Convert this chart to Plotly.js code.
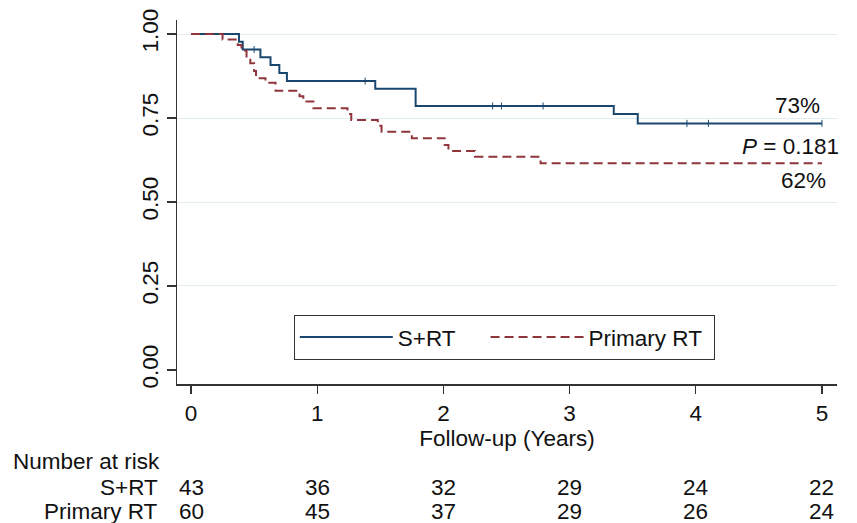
<!DOCTYPE html>
<html>
<head>
<meta charset="utf-8">
<script src="https://cdn.plot.ly/plotly-3.0.1.min.js"></script>
<style>html,body{margin:0;padding:0;background:#fff;}#chart{width:857px;height:523px;}</style>
</head>
<body>
<div id="chart"></div>
<script>
// S+RT Kaplan-Meier step curve
const srtTime = [0, 0.38, 0.41, 0.55, 0.63, 0.70, 0.76, 1.46, 1.78, 3.35, 3.54, 5.0];
const srtSurv = [1.0, 0.977, 0.954, 0.931, 0.908, 0.884, 0.860, 0.837, 0.786, 0.762, 0.734, 0.734];
// S+RT censoring marks
const srtCensTime = [0.50, 1.38, 2.39, 2.46, 2.79, 3.93, 4.10, 5.0];
const srtCensSurv = [0.954, 0.860, 0.786, 0.786, 0.786, 0.734, 0.734, 0.734];
// Primary RT Kaplan-Meier step curve
const prtTime = [0, 0.25, 0.37, 0.40, 0.44, 0.47, 0.50, 0.515, 0.59, 0.67, 0.86, 0.89, 0.97, 1.24, 1.27, 1.48, 1.51, 1.75, 2.01, 2.04, 2.25, 2.77, 5.0];
const prtSurv = [1.0, 0.984, 0.967, 0.95, 0.93, 0.913, 0.89, 0.868, 0.855, 0.831, 0.815, 0.799, 0.779, 0.762, 0.744, 0.727, 0.709, 0.69, 0.67, 0.652, 0.635, 0.615, 0.615];
// axis ticks
const xTicks = [0, 1, 2, 3, 4, 5];
const yTicks = [0, 0.25, 0.5, 0.75, 1.0];
const yTickText = ["0.00", "0.25", "0.50", "0.75", "1.00"];
// number at risk
const riskTimes = [0, 1, 2, 3, 4, 5];
const riskSRT = [43, 36, 32, 29, 24, 22];
const riskPRT = [60, 45, 37, 29, 26, 24];
// labels
const groupNames = ["S+RT", "Primary RT"];
const endLabelSRT = "73%";
const endLabelPRT = "62%";
const pLabel = "<i>P</i> = 0.181";

const blue = "#1a476f";
const red = "#90353b";
const txt = "#111111";
const font = "Liberation Sans, Arial, Helvetica, sans-serif";
const fs = 22.5;

const traces = [
  {x: srtTime, y: srtSurv, type: "scatter", mode: "lines", name: groupNames[0] + "\u00a0\u00a0\u00a0\u00a0",
   line: {shape: "hv", color: blue, width: 2}},
  {x: prtTime, y: prtSurv, type: "scatter", mode: "lines", name: groupNames[1] + "\u00a0",
   line: {shape: "hv", color: red, width: 2, dash: "9px,5px"}},
  {x: srtCensTime, y: srtCensSurv, type: "scatter", mode: "markers", showlegend: false,
   marker: {symbol: "line-ns-open", size: 5, color: blue, line: {color: blue, width: 1}}, hoverinfo: "skip"}
];

const ann = [];
ann.push({xref: "x", yref: "y", x: 5.0, y: srtSurv[srtSurv.length-1], text: endLabelSRT, showarrow: false,
  xanchor: "right", yanchor: "bottom", yshift: 3, font: {family: font, size: fs, color: txt}});
ann.push({xref: "x", yref: "y", x: 5.0, y: (srtSurv[srtSurv.length-1] + prtSurv[prtSurv.length-1]) / 2, text: pLabel, showarrow: false,
  xanchor: "right", yanchor: "middle", xshift: 19, yshift: -3, font: {family: font, size: fs, color: txt}});
ann.push({xref: "x", yref: "y", x: 5.0, y: prtSurv[prtSurv.length-1], text: endLabelPRT, showarrow: false,
  xanchor: "right", yanchor: "top", xshift: 6, yshift: -3, font: {family: font, size: fs, color: txt}});

ann.push({xref: "paper", yref: "paper", x: -0.251, y: -0.214, text: "Number at risk", showarrow: false,
  xanchor: "left", yanchor: "middle", font: {family: font, size: fs, color: txt}});
ann.push({xref: "paper", yref: "paper", x: -0.026, y: -0.283, text: groupNames[0], showarrow: false,
  xanchor: "right", yanchor: "middle", font: {family: font, size: fs, color: txt}});
ann.push({xref: "paper", yref: "paper", x: -0.026, y: -0.349, text: groupNames[1], showarrow: false,
  xanchor: "right", yanchor: "middle", font: {family: font, size: fs, color: txt}});
riskTimes.forEach((t, i) => {
  ann.push({xref: "x", yref: "paper", x: t, y: -0.283, text: String(riskSRT[i]), showarrow: false,
    xanchor: "center", yanchor: "middle", font: {family: font, size: fs, color: txt}});
  ann.push({xref: "x", yref: "paper", x: t, y: -0.349, text: String(riskPRT[i]), showarrow: false,
    xanchor: "center", yanchor: "middle", font: {family: font, size: fs, color: txt}});
});

const layout = {
  width: 857, height: 523,
  margin: {l: 177, r: 20, t: 20, b: 139},
  paper_bgcolor: "#fff", plot_bgcolor: "#fff",
  font: {family: font, size: fs, color: txt},
  showlegend: true,
  legend: {orientation: "h", x: 0.177, y: 0.19, xanchor: "left", yanchor: "top",
    bordercolor: "#333", borderwidth: 1, bgcolor: "#fff", itemwidth: 93,
    font: {family: font, size: fs, color: txt}},
  xaxis: {range: [-0.111, 5.119], tickvals: xTicks, ticks: "outside", ticklen: 8, tickwidth: 1.3,
    tickcolor: "#333", showline: true, linecolor: "#333", linewidth: 1.5, showgrid: false, zeroline: false,
    tickfont: {family: font, size: fs, color: txt},
    title: {text: "Follow-up (Years)", standoff: 4, font: {family: font, size: fs, color: txt}}},
  yaxis: {range: [-0.0417, 1.0417], tickvals: yTicks, ticktext: yTickText, tickangle: -90,
    ticks: "outside", ticklen: 9, tickwidth: 1.3, tickcolor: "#333",
    showline: true, linecolor: "#333", linewidth: 1.5, showgrid: true, gridcolor: "#e1edf0", gridwidth: 1,
    zeroline: true, zerolinecolor: "#ffffff", zerolinewidth: 1,
    tickfont: {family: font, size: fs, color: txt}},
  annotations: ann
};

Plotly.newPlot("chart", traces, layout, {displayModeBar: false, staticPlot: true});
</script>
</body>
</html>
